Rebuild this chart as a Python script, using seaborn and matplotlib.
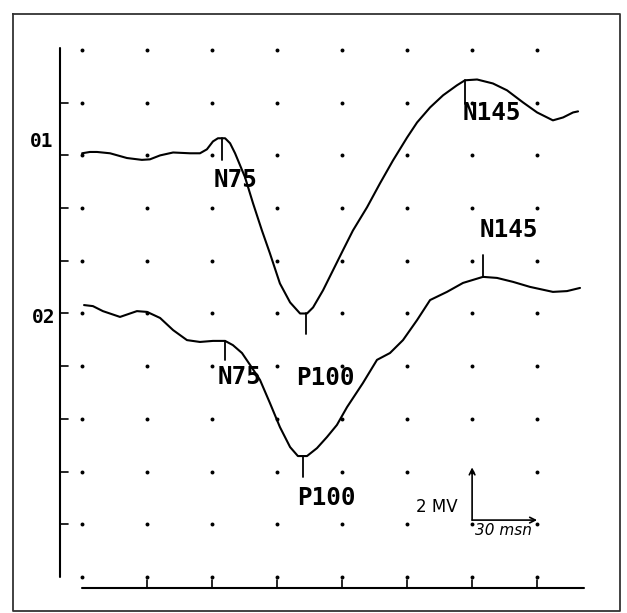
import numpy as np
import pandas as pd
import matplotlib
matplotlib.use("Agg")
import matplotlib.pyplot as plt
import seaborn as sns

sns.set_style("white")
plt.rcParams['font.family'] = ['DejaVu Sans Mono', 'DejaVu Sans']
plt.rcParams['text.color'] = 'black'

# VEP traces, time in ms, amplitude in uV (drawn relative to each channel baseline)
t_01 = [10.2, 13.8, 17.1, 23.1, 30.9, 37.8, 41.5, 46.2, 52.2, 60.0, 64.6, 67.8, 70.6,
        72.9, 74.8, 76.2, 78.5, 80.8, 85.4, 89.1, 93.2, 96.9, 101.5, 106.2, 110.8,
        114.0, 116.8, 121.4, 126.0, 130.6, 135.2, 141.7, 147.7, 153.7, 160.2, 164.8,
        170.8, 176.8, 183.2, 186.9, 192.5, 199.8, 206.3, 213.7, 220.2, 227.5, 232.2,
        236.8, 239.1]
a_01 = [0.08, 0.13, 0.13, 0.08, -0.10, -0.17, -0.15, 0.00, 0.11, 0.08, 0.08, 0.23, 0.53,
        0.65, 0.65, 0.65, 0.46, 0.08, -0.83, -1.82, -2.85, -3.72, -4.86, -5.58, -6.00,
        -6.00, -5.77, -5.12, -4.36, -3.60, -2.85, -1.97, -1.06, -0.19, 0.68, 1.25,
        1.82, 2.28, 2.66, 2.85, 2.88, 2.73, 2.47, 2.01, 1.63, 1.33, 1.44,
        1.63, 1.67]

t_02 = [11.1, 15.2, 19.8, 27.7, 35.5, 40.2, 46.2, 52.2, 58.6, 64.6, 70.6, 76.2, 79.8,
        84.0, 87.7, 92.3, 96.9, 101.5, 106.2, 109.8, 114.0, 118.6, 123.2, 127.8, 132.5,
        139.8, 146.3, 152.3, 158.3, 164.8, 170.8, 178.6, 186.0, 195.2, 201.7, 209.1,
        216.9, 227.5, 234.0, 240.0]
a_02 = [0.32, 0.28, 0.09, -0.13, 0.09, 0.06, -0.17, -0.63, -1.01, -1.08, -1.04, -1.04, -1.20,
        -1.50, -1.95, -2.52, -3.40, -4.31, -5.07, -5.41, -5.41, -5.11, -4.69, -4.23, -3.55,
        -2.64, -1.76, -1.50, -1.01, -0.25, 0.51, 0.82, 1.16, 1.39, 1.35, 1.20,
        1.01, 0.82, 0.85, 0.97]

channels = ['01', '02']
baselines = [16, 10]

peak_names = ['N75', 'P100', 'N145']
peak_t_01 = [74.8, 113.5, 186.9]
peak_t_02 = [76.2, 112.2, 195.2]

# dotted grid: 30 ms x 2 uV divisions
grid_t = [10, 40, 70, 100, 130, 160, 190, 220]
grid_uv = [0, 2, 4, 6, 8, 10, 12, 14, 16, 18, 20]

scale_ms = 30
scale_uv = 2

# layout: tick direction/length, label offset from tick end (dx ms, dy uV)
tick_dir = [[-1, -1, -1], [-1, -1, 1]]
tick_len = [[0.83, 0.76, 0.9], [0.72, 0.8, 0.82]]
label_off = [[(-3.7, -1.02), (-4.6, -1.94), (-0.9, -0.62)],
             [(-3.3, -0.92), (-2.8, -1.07), (-1.4, 0.68)]]

fig = plt.figure(figsize=(6.27, 6.13), dpi=100)
ax = fig.add_axes([0, 0, 1, 1])
ax.set_xlim(-27.69, 261.69)
ax.set_ylim(-1.366, 21.897)
ax.axis('off')

# grid dots
gt, gu = np.meshgrid(grid_t, grid_uv)
grid_df = pd.DataFrame({'t': gt.ravel(), 'uv': gu.ravel()})
sns.scatterplot(data=grid_df, x='t', y='uv', marker='o', s=8, color='black',
                linewidth=0, legend=False, ax=ax)

# axes lines
ax.plot([0, 0], [grid_uv[0], grid_uv[-1] + 0.08], color='black', lw=1.5)
for u in grid_uv[1:-1]:
    ax.plot([0, 3.7], [u, u], color='black', lw=1.2)
ax.plot([grid_t[0], 242], [-0.42, -0.42], color='black', lw=1.5)
for t in grid_t[1:]:
    ax.plot([t, t], [-0.42, -0.12], color='black', lw=1.2)

# outer frame of the page
ax.plot([0.021, 0.989, 0.989, 0.021, 0.021], [0.977, 0.977, 0.004, 0.004, 0.977],
        color='#333333', lw=1.3, transform=ax.transAxes, clip_on=False)

traces = [(t_01, a_01, peak_t_01), (t_02, a_02, peak_t_02)]
for i, (tt, aa, pk) in enumerate(traces):
    df = pd.DataFrame({'t': tt, 'uv': np.array(aa) + baselines[i]})
    sns.lineplot(data=df, x='t', y='uv', color='black', lw=1.5, sort=False,
                 estimator=None, legend=False, ax=ax)
    for j, name in enumerate(peak_names):
        y0 = np.interp(pk[j], tt, aa) + baselines[i]
        y1 = y0 + tick_dir[i][j] * tick_len[i][j]
        ax.plot([pk[j], pk[j]], [y0, y1], color='black', lw=1.3)
        dx, dy = label_off[i][j]
        ax.text(pk[j] + dx, y1 + dy, name, fontsize=17.5, fontweight='bold',
                color='black', ha='left', va='baseline')

ax.text(-13.8, 16.32, channels[0], fontsize=14, fontweight='bold', color='black',
        ha='left', va='baseline')
ax.text(-12.9, 9.64, channels[1], fontsize=14, fontweight='bold', color='black',
        ha='left', va='baseline')

# calibration bar
cx, cy = 190.2, 2.16
ax.annotate('', xy=(cx, cy + scale_uv), xytext=(cx, cy),
            arrowprops=dict(arrowstyle='->', lw=1.2, color='black', shrinkA=0, shrinkB=0))
ax.annotate('', xy=(cx + scale_ms, cy), xytext=(cx, cy),
            arrowprops=dict(arrowstyle='->', lw=1.2, color='black', shrinkA=0, shrinkB=0))
ax.text(cx - 6.5, cy + 0.5, '2 MV', fontsize=12, family='DejaVu Sans', color='black',
        ha='right', va='center')
ax.text(cx + 1.3, cy - 0.38, '30 msn', fontsize=11, family='DejaVu Sans', color='black',
        style='italic', ha='left', va='center')

plt.savefig('out.png', dpi=100)
plt.close()
